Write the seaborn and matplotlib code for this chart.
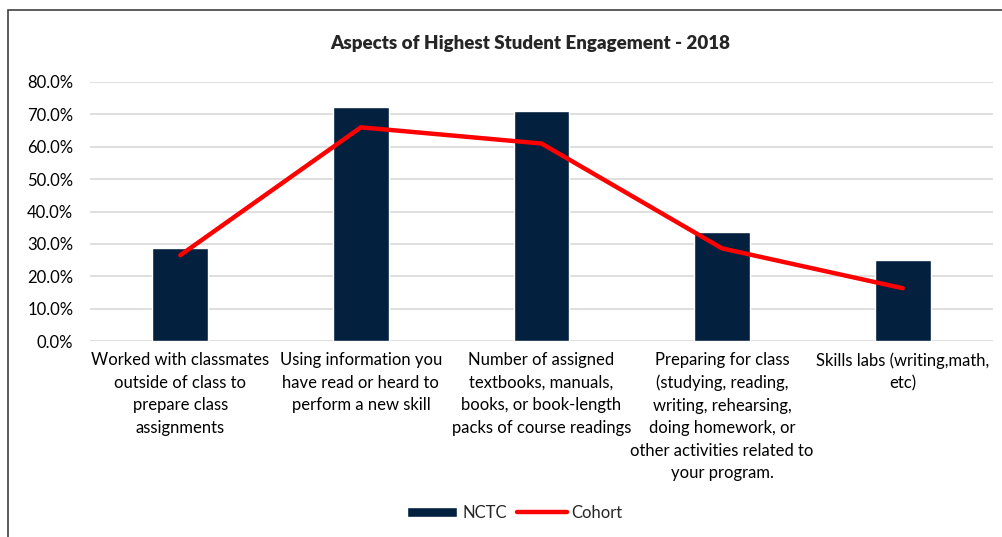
import matplotlib
matplotlib.use('agg')
import matplotlib.pyplot as plt
import seaborn as sns
import pandas as pd
from matplotlib.patches import Rectangle
from matplotlib.ticker import PercentFormatter

categories = [
    "Worked with classmates\noutside of class to\nprepare class\nassignments",
    "Using information you\nhave read or heard to\nperform a new skill",
    "Number of assigned\ntextbooks, manuals,\nbooks, or book-length\npacks of course readings",
    "Preparing for class\n(studying, reading,\nwriting, rehearsing,\ndoing homework, or\nother activities related to\nyour program.",
    "Skills labs (writing,math,\netc)",
]
nctc = [0.288, 0.724, 0.710, 0.337, 0.249]
cohort = [0.265, 0.660, 0.610, 0.286, 0.163]

df = pd.DataFrame({"aspect": categories, "NCTC": nctc, "Cohort": cohort})

sns.set_style("white")
plt.rcParams['font.family'] = ['Lato', 'DejaVu Sans']

fig = plt.figure(figsize=(10.02, 5.37), dpi=100)
ax = fig.add_axes([90 / 1002, 1 - 341 / 537, 903 / 1002, 259 / 537])

sns.barplot(data=df, x="aspect", y="NCTC", color="#03203F", width=0.31,
            saturation=1, label="NCTC", ax=ax)
sns.lineplot(data=df, x="aspect", y="Cohort", color="#FF0000", linewidth=3.2,
             sort=False, label="Cohort", ax=ax)

ax.set_ylim(0, 0.8)
ax.set_yticks([i / 10 for i in range(9)])
ax.yaxis.set_major_formatter(PercentFormatter(1.0, decimals=1))
ax.grid(axis='y', color="#D9D9D9", linewidth=1.2)
ax.set_axisbelow(True)
for s in ax.spines.values():
    s.set_visible(False)
ax.set_xlabel("")
ax.set_ylabel("")
ax.tick_params(axis='both', length=0, labelsize=12, colors="#000000")
ax.tick_params(axis='y', pad=12)
ax.tick_params(axis='x', pad=8)
ax.set_xticks(range(len(categories)))
ax.set_xticklabels(categories, linespacing=1.5, ha='center')
ax.set_xlim(-0.5, len(categories) - 0.5)

fig.text(530 / 1002, 1 - 43 / 537, "Aspects of Highest Student Engagement - 2018",
         ha='center', va='center', fontsize=13.5, fontweight='heavy')

handles, labels = ax.get_legend_handles_labels()
order = [labels.index("NCTC"), labels.index("Cohort")]
ax.legend([handles[i] for i in order], [labels[i] for i in order],
          loc='center', bbox_to_anchor=(515 / 1002, 1 - 513 / 537),
          bbox_transform=fig.transFigure, ncol=2, frameon=False,
          fontsize=12, handlelength=3.0, handleheight=0.6,
          columnspacing=0.6, handletextpad=0.3)

fig.patches.append(Rectangle((8 / 1002, -0.01), 1.02, 1 - 10 / 537 + 0.01,
                             transform=fig.transFigure, fill=False,
                             edgecolor="#404040", linewidth=1.2))

fig.savefig("out.png", dpi=100)
